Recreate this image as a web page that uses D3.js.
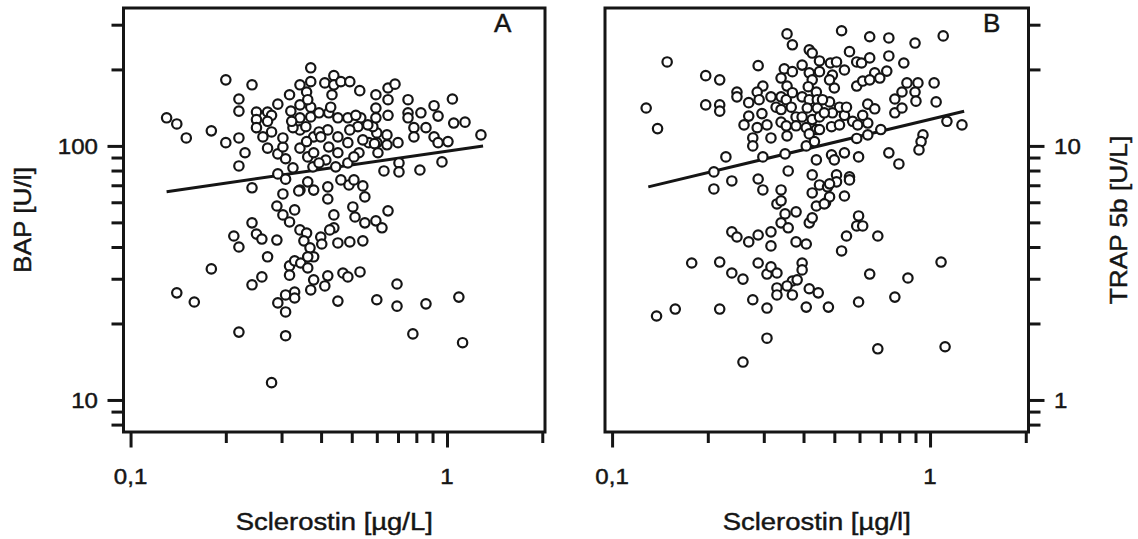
<!DOCTYPE html>
<html><head><meta charset="utf-8">
<script src="https://cdn.jsdelivr.net/npm/d3@7"></script>
<style>
body{margin:0;background:#fff}
svg{display:block}
text{font-family:"Liberation Sans",Arial,Helvetica,sans-serif;fill:#151515;stroke:#151515;stroke-width:0.45px}
</style>
</head><body>
<svg id="c" width="1138" height="539"></svg>
<script>
// ---------- tick values / labels ----------
const xMajor = [0.1, 1];
const xMinor = [0.2, 0.3, 0.4, 0.5, 0.6, 0.7, 0.8, 0.9, 2];
const xLabels = ["0,1", "1"];
const yMajorA = [10, 100];
const yMinorA = [8, 9, 20, 30, 40, 50, 60, 70, 80, 90, 200, 300];
const yLabelsA = ["10", "100"];
const yMajorB = [1, 10];
const yMinorB = [0.8, 0.9, 2, 3, 4, 5, 6, 7, 8, 9, 20, 30];
const yLabelsB = ["1", "10"];

// ---------- panel A: Sclerostin [µg/L] vs BAP [U/l] ----------
const sclerostinA = [
0.130,0.140,0.150,0.180,0.200,0.200,0.220,0.220,0.220,0.230,
0.220,0.242,0.242,0.250,0.250,0.250,0.271,0.279,0.292,0.279,
0.262,0.271,0.292,0.309,0.303,0.292,0.309,0.303,0.318,0.343,
0.343,0.343,0.343,0.343,0.343,0.326,0.303,0.326,0.340,0.290,
0.330,0.303,0.318,0.242,0.212,0.220,0.250,0.260,0.290,0.343,
0.360,0.353,0.271,0.318,0.330,0.345,0.318,0.180,0.260,0.242,
0.140,0.159,0.309,0.330,0.330,0.292,0.309,0.220,0.309,0.279,
0.363,0.369,0.363,0.379,0.420,0.420,0.490,0.542,0.550,0.504,
0.512,0.439,0.550,0.596,0.623,0.651,0.439,0.426,0.399,0.402,
0.452,0.493,0.542,0.379,0.363,0.469,0.486,0.531,0.420,0.411,
0.371,0.379,0.452,0.600,0.695,0.695,0.858,1.090,0.780,1.120,
0.371,0.371,0.411,0.439,0.439,0.462,0.493,0.433,0.530,0.596,
0.651,0.685,0.651,0.596,0.651,0.753,0.753,0.753,0.827,0.910,
0.937,1.040,1.050,1.140,1.280,0.786,0.858,0.786,0.910,0.937,
1.007,0.705,0.705,0.632,0.821,0.964,0.646,0.646,0.600,0.566,
0.600,0.605,0.527,0.542,0.583,0.534,0.523,0.486,0.493,0.452,
0.420,0.379,0.423,0.363,0.414,0.445,0.486,0.508,0.360,0.371,
0.371,0.360,0.379,0.394,0.394,0.423,0.452,0.452,0.358,0.377,
0.394,0.462,0.363,0.429,0.515,0.562,0.596,0.486,0.399,0.508,
0.271,0.321,0.323,0.590,0.700];
const bapA = [
129,122,107.5,114.6,182,103,153,137,107.5,94,
83.4,174,68.4,136,127,118,136,132,146,113.5,
108.5,98,93,89,99,77.6,74,64.7,159,174,
145,129,115.6,98,67,118,107.5,82,66.5,58,
56,53.5,50.2,49.8,44.2,40,45,43,42.6,46.7,
45.4,42.3,36.6,33.7,35.3,34.6,31,32.8,30.5,28.4,
26.4,24.3,25.9,26.6,25.2,24.1,22.2,18.5,17.9,11.7,
33.1,39.7,72.2,67,69,61.8,70.2,69.6,63,57.5,
52.5,53.5,49.8,50.7,47.6,55.5,47.6,46.7,43.8,41.1,
41.5,41.9,42.3,36.6,36.6,31.6,30.5,31.9,30.8,28.1,
27.1,29.7,24.5,24.8,28.6,23.4,23.9,25.4,18.2,16.8,
203,179,177,189,174,179,179,159,165,159,
169,175,152,141,132,152,135,129,135,144,
131,153,123,124,110.5,118,118,108.5,108.5,103,
104,85.7,79,79.7,80.4,86.5,101,110.5,103,103,
112.5,94,94,105.6,119,129,119,129,115.6,129,
115.6,108.5,99,90.5,88,82.7,85.7,73.5,163,142,
130,104,94,135,113.5,135,108.5,94,119,82.7,
85.7,73.5,152,142,132,121,129,103,108.5,90.5,
125,137,125,102,103];

// ---------- panel B: Sclerostin [µg/l] vs TRAP 5b [U/L] ----------
const sclerostinB = [
0.149,0.128,0.139,0.197,0.218,0.197,0.218,0.218,0.228,0.209,
0.238,0.209,0.288,0.247,0.247,0.269,0.298,0.286,0.316,0.290,
0.269,0.296,0.260,0.286,0.307,0.277,0.277,0.316,0.298,0.288,
0.298,0.340,0.350,0.358,0.355,0.369,0.348,0.340,0.369,0.355,
0.340,0.353,0.369,0.366,0.328,0.340,0.340,0.379,0.353,0.379,
0.355,0.396,0.417,0.426,0.449,0.417,0.426,0.449,0.414,0.439,
0.396,0.417,0.442,0.411,0.442,0.396,0.426,0.449,0.408,0.439,
0.417,0.408,0.433,0.439,0.426,0.449,0.426,0.486,0.508,0.493,
0.538,0.500,0.483,0.519,0.493,0.538,0.490,0.519,0.490,0.538,
0.500,0.508,0.508,0.538,0.527,0.558,0.646,0.742,0.897,1.100,
0.588,0.609,0.646,0.742,0.827,0.483,0.670,0.695,0.731,0.588,
0.614,0.646,0.846,0.916,1.030,0.816,0.775,0.775,0.816,0.897,
0.903,1.045,0.459,0.546,0.637,0.670,0.465,0.571,0.592,0.637,
0.614,0.449,0.637,0.588,0.700,1.130,1.260,0.950,0.937,0.923,
0.742,0.798,0.596,0.558,0.476,0.330,0.340,0.350,0.379,0.340,
0.358,0.439,0.469,0.483,0.483,0.417,0.426,0.238,0.247,0.269,
0.288,0.316,0.316,0.379,0.408,0.546,0.527,0.178,0.218,0.238,
0.258,0.288,0.307,0.316,0.330,0.396,0.396,0.369,0.382,0.355,
0.330,0.330,0.369,0.417,0.445,0.277,0.307,0.408,0.479,0.218,
0.158,0.138,0.307,0.258,0.558,0.465,0.596,0.588,0.614,0.685,
1.083,0.646,0.852,0.775,0.596,0.685,1.115];
const trapB = [
21.4,14.1,11.7,18.9,18.2,14.5,14.5,13.7,9.05,7.9,
7.28,6.77,20.7,16.3,15.6,14.8,17.2,16.3,15.6,15.2,
13.1,13.4,12.1,11.8,12.1,10.75,10.0,10.75,9.05,7.41,
6.71,6.71,9.3,7.97,27.6,25.0,20.1,18.5,19.6,17.2,
15.6,15.2,16.2,14.2,14.2,13.9,12.4,13.0,12.0,12.0,
10.95,20.8,23.9,23.2,21.6,19.4,18.2,19.6,17.1,16.3,
15.6,15.2,15.2,14.1,14.1,13.0,12.7,13.0,11.8,11.6,
11.15,10.0,10.4,8.81,7.69,7.02,6.53,21.2,21.4,19.0,
19.9,16.9,14.9,14.2,13.5,13.2,11.9,12.1,9.22,9.39,
8.81,7.69,7.22,6.35,28.4,23.5,26.9,26.6,25.4,27.1,
21.4,21.2,22.2,22.6,21.2,18.2,19.4,18.5,19.7,17.2,
18.0,18.2,17.7,17.7,17.7,16.3,15.3,13.5,14.1,16.3,
15.0,14.9,15.2,14.2,14.6,14.0,13.5,12.5,12.1,12.3,
13.2,11.6,11.05,10.7,11.6,12.5,12.1,11.05,10.4,9.64,
9.39,8.49,9.05,7.55,6.9,5.91,6.08,5.4,5.5,4.98,
4.76,5.8,5.96,6.3,7.09,4.98,5.21,4.59,4.38,4.19,
4.46,4.59,4.04,4.19,4.11,4.42,3.86,3.46,3.49,3.16,
2.99,3.46,3.13,3.34,3.16,3.46,3.25,2.94,2.97,2.81,
2.76,2.59,2.59,2.74,2.64,2.48,2.30,2.32,2.32,2.28,
2.28,2.14,1.75,1.41,7.35,5.91,5.3,4.84,4.84,4.42,
3.49,3.13,3.02,2.54,2.43,1.59,1.62];

// ---------- fitted regression lines (end points) ----------
const fitAx = [0.13, 1.30], fitAy = [66, 100];
const fitBx = [0.13, 1.28], fitBy = [6.9, 13.7];

// ---------- drawing ----------
const svg = d3.select("#c");
const INK = "#151515";

function txt(g, str, x, y, size, anchor, rot, sx) {
  g.append("text")
    .attr("transform", `translate(${x},${y}) rotate(${rot}) scale(${sx},1)`)
    .attr("text-anchor", anchor)
    .attr("font-size", size)
    .text(str);
}

const panels = [
  {x0:123.5, x1:545, y0:8, y1:432, yDom:[7.48,349], xs:sclerostinA, ys:bapA,
   fx:fitAx, fy:fitAy, yMaj:yMajorA, yMin:yMinorA, yLab:yLabelsA, side:"left",
   xTitle:"Sclerostin [µg/L]", yTitle:"BAP [U/l]", letter:"A", letterX:494, yTitleX:31},
  {x0:605, x1:1028.5, y0:8, y1:432, yDom:[0.748,34.9], xs:sclerostinB, ys:trapB,
   fx:fitBx, fy:fitBy, yMaj:yMajorB, yMin:yMinorB, yLab:yLabelsB, side:"right",
   xTitle:"Sclerostin [µg/l]", yTitle:"TRAP 5b [U/L]", letter:"B", letterX:983, yTitleX:1127}
];

panels.forEach(p => {
  const x = d3.scaleLog().domain([0.095, 2.04]).range([p.x0, p.x1]);
  const y = d3.scaleLog().domain(p.yDom).range([p.y1, p.y0]);
  const g = svg.append("g");

  const styleAxis = sel => {
    sel.select(".domain").remove();
    sel.selectAll(".tick line").attr("stroke", INK).attr("stroke-width", 3);
    sel.selectAll(".tick text").remove();
  };
  // x ticks
  g.append("g").attr("transform", `translate(0,${p.y1})`)
    .call(d3.axisBottom(x).tickValues(xMinor).tickSize(11).tickFormat(""))
    .call(styleAxis);
  g.append("g").attr("transform", `translate(0,${p.y1})`)
    .call(d3.axisBottom(x).tickValues(xMajor).tickSize(15.5).tickFormat(""))
    .call(styleAxis);

  // y ticks
  const ax = p.side === "left" ? d3.axisLeft : d3.axisRight;
  const axX = p.side === "left" ? p.x0 : p.x1;
  g.append("g").attr("transform", `translate(${axX},0)`)
    .call(ax(y).tickValues(p.yMin).tickSize(12).tickFormat("")).call(styleAxis);
  g.append("g").attr("transform", `translate(${axX},0)`)
    .call(ax(y).tickValues(p.yMaj).tickSize(16).tickFormat("")).call(styleAxis);

  // frame
  g.append("rect").attr("x", p.x0).attr("y", p.y0)
    .attr("width", p.x1 - p.x0).attr("height", p.y1 - p.y0)
    .attr("fill", "none").attr("stroke", INK).attr("stroke-width", 3);

  // regression line
  const line = d3.line().x(d => x(d[0])).y(d => y(d[1]));
  g.append("path").datum(d3.zip(p.fx, p.fy)).attr("d", line)
    .attr("fill", "none").attr("stroke", INK).attr("stroke-width", 3);

  // points
  g.append("g").selectAll("circle").data(d3.zip(p.xs, p.ys)).join("circle")
    .attr("cx", d => x(d[0])).attr("cy", d => y(d[1])).attr("r", 4.7)
    .attr("fill", "#fff").attr("stroke", INK).attr("stroke-width", 2.2);

  // x tick labels
  xMajor.forEach((v, i) => txt(g, xLabels[i], x(v), 484, 21.5, "middle", 0, 1.12));
  // y tick labels
  p.yMaj.forEach((v, i) => {
    if (p.side === "left") txt(g, p.yLab[i], 98, y(v) + 7.7, 21.5, "end", 0, 1.12);
    else txt(g, p.yLab[i], 1054, y(v) + 7.7, 21.5, "start", 0, 1.12);
  });
  // titles
  txt(g, p.xTitle, (p.x0 + p.x1) / 2, 530, 24.5, "middle", 0, 1.12);
  txt(g, p.yTitle, p.yTitleX, 220, 24.5, "middle", -90, 1.07);
  txt(g, p.letter, p.letterX, 32, 26, "start", 0, 1);
});
</script>
</body></html>
